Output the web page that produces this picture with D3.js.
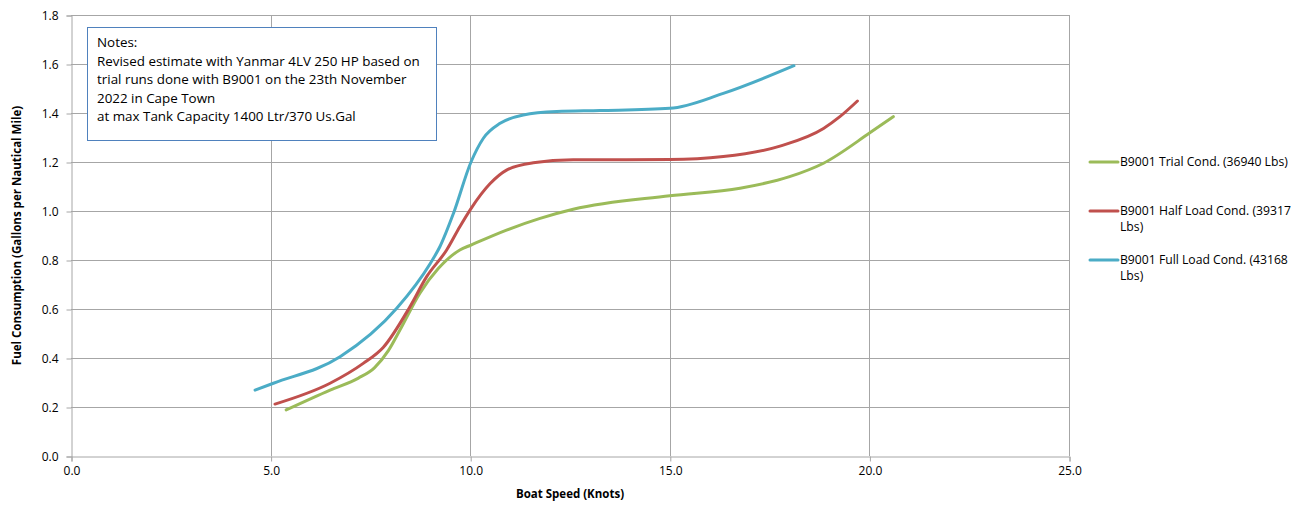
<!DOCTYPE html>
<html><head><meta charset="utf-8">
<script src="https://cdn.jsdelivr.net/npm/d3@7"></script>
<style>
html,body{margin:0;padding:0;background:#fff;}
svg{display:block;font-family:"Open Sans","Noto Sans",sans-serif;}
</style></head>
<body><svg id="c" width="1308" height="506"></svg>
<script>
const xTicks = [0, 5, 10, 15, 20, 25];
const yTicks = [0, 0.2, 0.4, 0.6, 0.8, 1.0, 1.2, 1.4, 1.6, 1.8];
const seriesNames = ["B9001 Trial Cond. (36940 Lbs)", "B9001 Half Load Cond. (39317 Lbs)", "B9001 Full Load Cond. (43168 Lbs)"];
const seriesColors = ["#9BBB59", "#C0504D", "#4BACC6"];
const trialSpeed = [5.39, 6.49, 7.2, 7.6, 7.95, 8.24, 8.74, 9.2, 9.74, 10.02, 10.91, 11.75, 12.58, 15.0, 16.76, 18.0, 18.85, 20.02, 20.6];
const trialFuel  = [0.188, 0.269, 0.318, 0.36, 0.43, 0.514, 0.665, 0.765, 0.841, 0.861, 0.922, 0.97, 1.007, 1.062, 1.093, 1.14, 1.195, 1.32, 1.385];
const halfSpeed = [5.11, 6.49, 7.32, 7.82, 8.49, 8.91, 9.41, 9.74, 10.02, 10.5, 10.91, 11.58, 12.58, 15.0, 16.34, 17.76, 18.85, 19.26, 19.70];
const halfFuel  = [0.212, 0.297, 0.378, 0.443, 0.609, 0.732, 0.841, 0.936, 1.01, 1.112, 1.167, 1.197, 1.209, 1.21, 1.222, 1.265, 1.337, 1.385, 1.449];
const fullSpeed = [4.61, 5.07, 6.74, 8.16, 9.0, 9.24, 9.58, 10.02, 10.33, 10.75, 11.33, 12.17, 13.25, 15.0, 16.34, 18.11];
const fullFuel  = [0.269, 0.297, 0.405, 0.603, 0.786, 0.854, 0.99, 1.2, 1.297, 1.358, 1.392, 1.406, 1.41, 1.419, 1.48, 1.593];
const notesLines = ["Notes:", "Revised estimate with Yanmar 4LV 250 HP based on", "trial runs done with B9001 on the 23th November", "2022 in Cape Town", "at max Tank Capacity 1400 Ltr/370 Us.Gal"];
const xTitle = "Boat Speed (Knots)";
const yTitle = "Fuel Consumption (Gallons per Nautical Mile)";

const svg = d3.select("#c");
const L = 71, R = 1069, T = 15, B = 456;
const x = d3.scaleLinear().domain([0, 25]).range([L, R]);
const y = d3.scaleLinear().domain([0, 1.8]).range([B, T]);
const grid = "#a6a6a6";

// gridlines
svg.append("g").selectAll("line").data(yTicks.slice(1)).join("line")
  .attr("x1", L).attr("x2", R).attr("y1", d => y(d) + 0.5).attr("y2", d => y(d) + 0.5)
  .attr("stroke", grid).attr("stroke-width", 1);
svg.append("g").selectAll("line").data(xTicks.slice(1)).join("line")
  .attr("y1", T).attr("y2", B).attr("x1", d => Math.round(x(d)) + 0.5).attr("x2", d => Math.round(x(d)) + 0.5)
  .attr("stroke", grid).attr("stroke-width", 1);

// axes
const yAxis = d3.axisLeft(y).tickValues(yTicks).tickFormat(d3.format(".1f")).tickSize(5).tickPadding(8);
const gy = svg.append("g").attr("transform", `translate(${L + 0.5},0.5)`).call(yAxis);
const xAxis = d3.axisBottom(x).tickValues(xTicks).tickFormat(d3.format(".1f")).tickSize(5).tickPadding(5);
const gx = svg.append("g").attr("transform", `translate(0.5,${B + 0.5})`).call(xAxis);
[gx, gy].forEach(g => {
  g.select(".domain").attr("stroke", grid);
  g.selectAll(".tick line").attr("stroke", grid);
  g.selectAll(".tick text").attr("fill", "#000").style("font-size", "12px").style("font-family", "'Open Sans','Noto Sans',sans-serif");
});

// titles
svg.append("text").attr("x", x(12.5)).attr("y", 498).attr("text-anchor", "middle")
  .style("font-weight", "bold").style("font-size", "11.5px").text(xTitle);
svg.append("text").attr("transform", `translate(21,${(T + B) / 2}) rotate(-90)`).attr("text-anchor", "middle")
  .style("font-weight", "bold").style("font-size", "11.5px").text(yTitle);

// lines
const series = [
  trialSpeed.map((s, i) => [s, trialFuel[i]]),
  halfSpeed.map((s, i) => [s, halfFuel[i]]),
  fullSpeed.map((s, i) => [s, fullFuel[i]])
];
const line = d3.line().x(d => x(d[0])).y(d => y(d[1])).curve(d3.curveMonotoneX);
series.forEach((s, i) => {
  svg.append("path").attr("d", line(s)).attr("fill", "none")
    .attr("stroke", seriesColors[i]).attr("stroke-width", 3).attr("stroke-linecap", "round");
});

// notes box
const nb = svg.append("g");
nb.append("rect").attr("x", 87.5).attr("y", 27.5).attr("width", 349).attr("height", 113)
  .attr("fill", "#fff").attr("stroke", "#4F81BD").attr("stroke-width", 1);
nb.selectAll("text").data(notesLines).join("text")
  .attr("x", 97).attr("y", (d, i) => 47 + i * 18.5)
  .style("font-size", "13.4px").attr("fill", "#000").text(d => d);

// legend
const legendItems = [
  { lines: ["B9001 Trial Cond. (36940 Lbs)"], y: 162 },
  { lines: ["B9001 Half Load Cond. (39317", "Lbs)"], y: 211 },
  { lines: ["B9001 Full Load Cond. (43168", "Lbs)"], y: 260 }
];
legendItems.forEach((it, i) => {
  svg.append("line").attr("x1", 1090).attr("x2", 1118).attr("y1", it.y).attr("y2", it.y)
    .attr("stroke", seriesColors[i]).attr("stroke-width", 3).attr("stroke-linecap", "round");
  it.lines.forEach((t, j) => {
    svg.append("text").attr("x", 1120).attr("y", it.y + 4 + j * 16)
      .style("font-size", "12.2px").attr("fill", "#000").text(t);
  });
});
</script></body></html>
